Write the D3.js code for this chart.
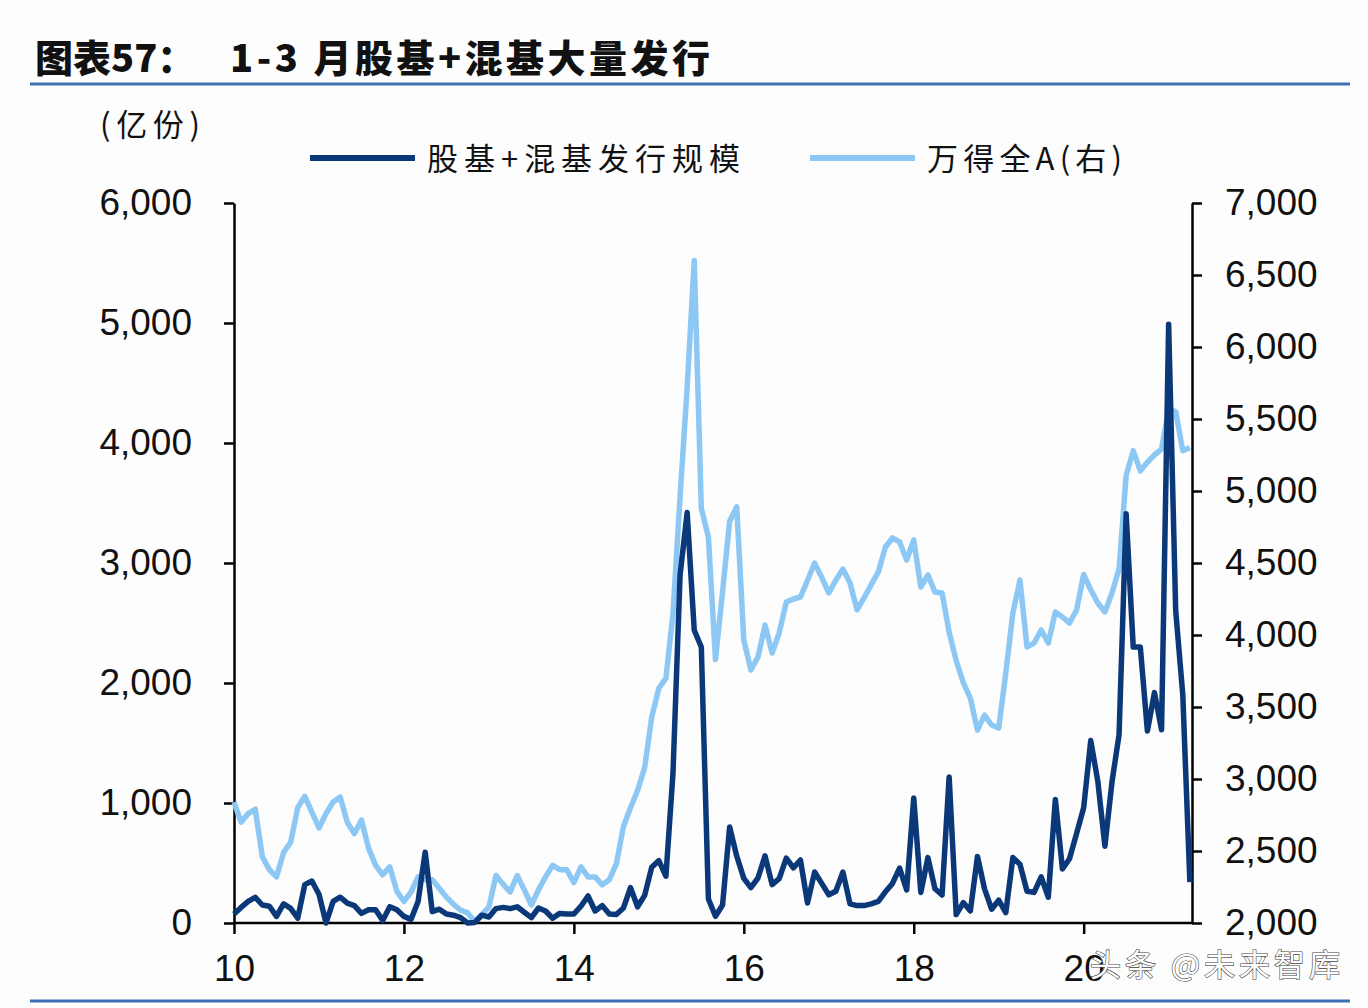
<!DOCTYPE html>
<html>
<head>
<meta charset="utf-8">
<script src="https://cdn.jsdelivr.net/npm/d3@7"></script>
<style>
  html, body { margin: 0; padding: 0; background: #fdfdfe; }
  svg { display: block; }
</style>
</head>
<body>
<svg id="chart" width="1368" height="1008"></svg>
<script>
// ---- data (monthly, Jan 2010 onward) ----
const issuance = [75,130,180,214,150,140,55,160,122,40,320,350,240,0,180,215,165,145,80,110,110,20,136,110,
  55,30,180,590,95,115,75,65,45,0,5,65,50,120,130,120,135,90,45,125,100,40,80,75,
  75,140,225,100,145,75,70,125,295,135,230,465,520,390,1250,2900,3420,2440,2300,200,56,150,800,558,
  372,295,375,560,320,370,540,460,525,167,425,330,235,265,425,160,145,145,160,180,260,330,458,275,
  1042,255,545,285,233,1217,70,170,100,555,285,115,190,87,545,490,265,255,385,215,1030,450,535,745,
  960,1520,1180,640,1175,1570,3410,2300,2300,1600,1920,1610,4990,2600,1900,340];
const windA = [2840,2700,2760,2790,2460,2370,2320,2490,2560,2800,2880,2770,2660,2760,2840,2875,2700,2620,2715,2520,2400,2335,2390,2220,
  2150,2215,2320,2300,2300,2240,2180,2130,2090,2070,2010,2060,2110,2330,2270,2215,2330,2230,2125,2230,2320,2400,2370,2370,
  2280,2390,2320,2320,2265,2300,2410,2670,2800,2920,3080,3430,3630,3700,4150,4960,5720,6600,4880,4680,3830,4300,4790,4890,
  3965,3757,3847,4069,3875,4014,4229,4250,4264,4380,4500,4400,4292,4380,4458,4361,4174,4260,4350,4438,4611,4674,4646,4521,
  4660,4333,4417,4299,4292,4020,3820,3670,3560,3340,3444,3375,3354,3736,4153,4382,3917,3944,4035,3944,4160,4125,4083,4174,
  4420,4313,4222,4160,4292,4460,5110,5280,5140,5200,5250,5290,5570,5550,5280,5300];
const xTickIdx = [0,24,48,72,96,120];
const xTickLabels = ["10","12","14","16","18","20"];
const leftTicks = [0,1000,2000,3000,4000,5000,6000];
const rightTicks = [2000,2500,3000,3500,4000,4500,5000,5500,6000,6500,7000];
const seriesNames = ["股基+混基发行规模","万得全A(右)"];

const DARK = "#0b3878", LIGHT = "#8dc8f5", RULE = "#3f70b3";
const NUMFONT = "'Liberation Sans', Arial, sans-serif";
const CJK = "'Noto Sans CJK SC', 'Noto Sans', sans-serif";

const svg = d3.select("#chart");
const L = 234, R = 1192, T = 203, B = 923;

const x = d3.scaleLinear().domain([0, 135.3]).range([L, R]);
const yL = d3.scaleLinear().domain([0, 6000]).range([B, T]);
const yR = d3.scaleLinear().domain([2000, 7000]).range([B, T]);

// title
svg.append("text").attr("x", 35).attr("y", 72)
  .attr("font-family", CJK).attr("font-weight", 900).attr("font-size", 38)
  .attr("fill", "#111").text("图表57：");
svg.append("text").attr("x", 230).attr("y", 72)
  .attr("font-family", CJK).attr("font-weight", 900).attr("font-size", 38)
  .attr("fill", "#111").attr("textLength", 480).attr("lengthAdjust", "spacing")
  .text("1-3 月股基+混基大量发行");
svg.append("line").attr("x1", 30).attr("x2", 1350).attr("y1", 84).attr("y2", 84)
  .attr("stroke", RULE).attr("stroke-width", 3);
svg.append("line").attr("x1", 30).attr("x2", 1350).attr("y1", 1001).attr("y2", 1001)
  .attr("stroke", RULE).attr("stroke-width", 3);

// unit
svg.append("text").attr("x", 100).attr("y", 136)
  .attr("font-family", CJK).attr("font-size", 31).attr("fill", "#111")
  .attr("textLength", 100).attr("lengthAdjust", "spacing").text("(亿份)");

// legend
const lg = svg.append("g");
lg.append("line").attr("x1", 310).attr("x2", 415).attr("y1", 158).attr("y2", 158)
  .attr("stroke", DARK).attr("stroke-width", 6);
lg.append("text").attr("x", 427).attr("y", 170)
  .attr("font-family", CJK).attr("font-size", 31).attr("fill", "#111")
  .attr("textLength", 313).attr("lengthAdjust", "spacing").text(seriesNames[0]);
lg.append("line").attr("x1", 810).attr("x2", 915).attr("y1", 158).attr("y2", 158)
  .attr("stroke", LIGHT).attr("stroke-width", 6);
lg.append("text").attr("x", 927).attr("y", 170)
  .attr("font-family", CJK).attr("font-size", 31).attr("fill", "#111")
  .attr("textLength", 195).attr("lengthAdjust", "spacing").text(seriesNames[1]);

// axes
function styleAxis(g) {
  g.selectAll("path.domain").attr("stroke", "#000").attr("stroke-width", 2.5);
  g.selectAll(".tick line").attr("stroke", "#000").attr("stroke-width", 2.5);
  g.selectAll(".tick text").attr("font-family", NUMFONT).attr("font-size", 37).attr("fill", "#111");
}
const gL = svg.append("g").attr("transform", `translate(${L},0)`)
  .call(d3.axisLeft(yL).tickValues(leftTicks).tickFormat(d3.format(",")).tickSize(10).tickSizeOuter(0).tickPadding(32));
styleAxis(gL);
const gR = svg.append("g").attr("transform", `translate(${R},0)`)
  .call(d3.axisRight(yR).tickValues(rightTicks).tickFormat(d3.format(",")).tickSize(10).tickSizeOuter(0).tickPadding(23));
styleAxis(gR);
const gB = svg.append("g").attr("transform", `translate(0,${B})`)
  .call(d3.axisBottom(x).tickValues(xTickIdx).tickFormat((d, i) => xTickLabels[i]).tickSize(11).tickSizeOuter(0).tickPadding(21));
styleAxis(gB);
gB.select("path.domain").attr("d", `M${L},0H${R}`);

// lines
const lineR = d3.line().x((d, i) => x(i)).y(d => yR(d));
const lineL = d3.line().x((d, i) => x(i)).y(d => yL(d));
svg.append("path").datum(windA).attr("d", lineR)
  .attr("fill", "none").attr("stroke", LIGHT).attr("stroke-width", 5.5).attr("stroke-linejoin", "round");
svg.append("path").datum(issuance).attr("d", lineL)
  .attr("fill", "none").attr("stroke", DARK).attr("stroke-width", 5.5).attr("stroke-linejoin", "round");

// watermark (overlays the last x label as in the source image)
svg.append("text").attr("x", 1090).attr("y", 976)
  .attr("font-family", CJK).attr("font-size", 31)
  .attr("fill", "#ffffff").attr("stroke", "#444").attr("stroke-width", 1.2)
  .attr("paint-order", "stroke")
  .attr("textLength", 250).attr("lengthAdjust", "spacing")
  .text("头条 @未来智库");
</script>
</body>
</html>
